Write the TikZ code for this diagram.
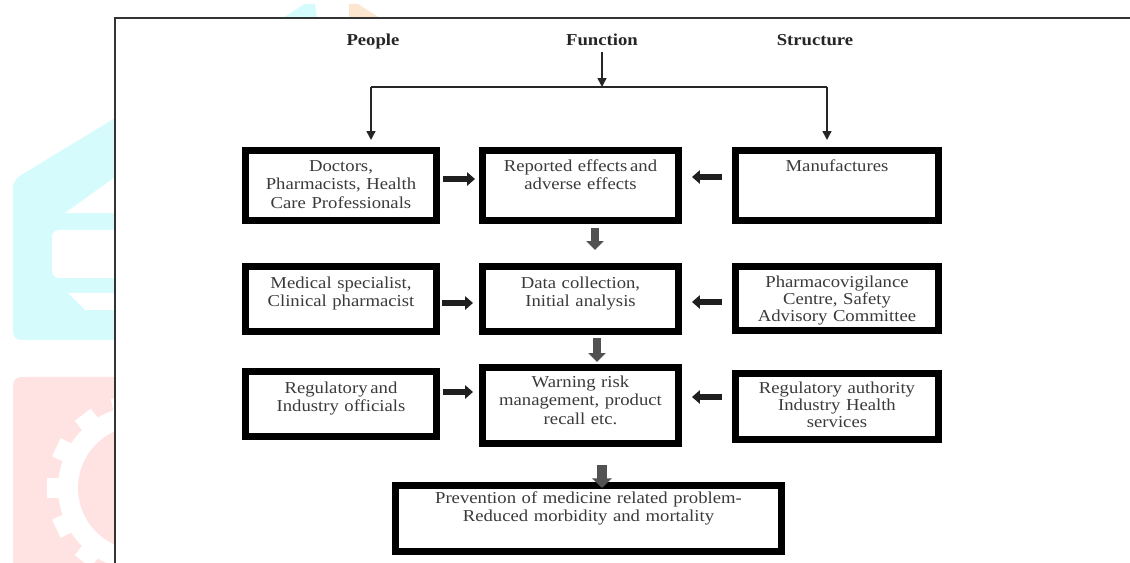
\documentclass[tikz,border=0pt]{standalone}
\usepackage{fontspec}
\setmainfont{Liberation Serif}[FakeStretch=1.12]
\usetikzlibrary{arrows.meta}
\definecolor{ink}{HTML}{3A3A3A}
\definecolor{wmcyan}{HTML}{D6FBFC}
\definecolor{wmpink}{HTML}{FFE3E3}
\definecolor{wmorange}{HTML}{FDE6D0}
\tikzset{
  box/.style n args={3}{draw=black, line width=4pt, inner sep=0pt, align=center,
    text width=#1, text height=#2, text depth=#3, anchor=north west,
    text=ink, font=\fontsize{9.5}{10.8}\selectfont},
  head/.style={anchor=base, text=black!85, font=\bfseries\fontsize{9.5}{11}\selectfont},
  link/.style={line width=.9pt, draw=black!85, -{Triangle[width=5pt,length=5pt]}},
  harrow/.style={line width=3.4pt, draw=black!88, -{Triangle[width=7.5pt,length=4.5pt]}},
  darrow/.style={line width=5pt, draw=black!68, -{Triangle[width=9.5pt,length=5pt]}}
}
\begin{document}
\begin{tikzpicture}[x=0.02cm, y=-0.02cm]
\useasboundingbox (0,0) rectangle (1130,563);
% \draw [help lines, step=50] (0,0) grid (1130,563);

% faded logo behind the figure
\begin{scope}
\clip (0,0) rectangle (115,563);
\fill[wmcyan, rounded corners=.16cm] (13,340) -- (13,180) -- (125,112) -- (125,340) -- cycle;
\fill[white] (65,213) -- (118,175) -- (118,213) -- cycle;
\fill[white, rounded corners=.14cm] (125,230) -- (52,230) -- (52,278) -- (125,278) -- cycle;
\fill[white] (68,293) -- (118,293) -- (118,310) -- (85,310) -- cycle;
\fill[wmpink, rounded corners=.16cm] (13,600) -- (13,377) -- (130,377) -- (130,600) -- cycle;
\fill[white] (140,488) circle (1.64cm);
\foreach \a in {24,50,...,360}
  \draw[white, line width=.4cm] (140,488) ++(\a:1.5cm) -- ++(\a:.36cm);
\fill[wmpink] (140,488) circle (1.24cm);
\end{scope}
\fill[wmcyan] (283,18) -- (295,10) -- (305,4) -- (315,4) -- (317,18) -- cycle;
\fill[wmorange] (349,18) -- (349,4) -- (358,4) -- (380,18) -- cycle;

% frame
\draw[line width=1.2pt, black!80] (115,563) -- (115,18) -- (1130,18);

% headings
\node[head] (people) at (373,46) {People};
\node[head] (fun) at (602,46) {Function};
\node[head] (struct) at (815,46) {Structure};

% boxes
\node[box={3.82cm}{.41cm}{.99cm}] (doc) at (242,147) {Doctors,\\Pharmacists, Health\\Care Professionals};
\node[box={3.92cm}{.41cm}{.99cm}] (rep) at (479,147) {Reported effects\,and\\adverse effects};
\node[box={4.06cm}{.41cm}{.99cm}] (manu) at (732,147) {Manufactures};

\node[box={3.82cm}{.43cm}{.87cm}] (med) at (242,263) {Medical specialist,\\Clinical pharmacist};
\node[box={3.92cm}{.43cm}{.87cm}] (data) at (479,263) {Data collection,\\Initial analysis};
\node[box={4.06cm}{.41cm}{.87cm}, font=\fontsize{9.5}{9.7}\selectfont] (pvc) at (732,263) {Pharmacovigilance\\Centre, Safety\\Advisory Committee};

\node[box={3.82cm}{.43cm}{.87cm}] (reg) at (242,368) {Regulatory\,and\\Industry officials};
\node[box={3.92cm}{.39cm}{1.13cm}] (warn) at (479,364) {Warning risk\\management, product\\recall etc.};
\node[box={4.06cm}{.39cm}{.93cm}, font=\fontsize{9.5}{9.7}\selectfont] (auth) at (732,370) {Regulatory authority\\Industry Health\\services};

\node[box={7.72cm}{.35cm}{.97cm}] (prev) at (392,482) {Prevention of medicine related problem-\\Reduced morbidity and mortality};

% branching lines from the top
\coordinate (barL) at (371,87);
\coordinate (barR) at (827,87);
\draw[line width=.9pt, black!85] (barL) -- (barR);
\draw[link] (fun.south) -- (fun.south |- barL);
\draw[link, shorten >=.14cm] (barL) -- (barL |- doc.north);
\draw[link, shorten >=.14cm] (barR) -- (barR |- manu.north);

% side arrows
\draw[harrow, shorten <=.06cm, shorten >=.08cm] ([yshift=.13cm]doc.east) -- ([yshift=.13cm]doc.east -| rep.west);
\draw[harrow, shorten <=.2cm, shorten >=.2cm] ([yshift=.17cm]manu.west) -- ([yshift=.17cm]manu.west -| rep.east);
\draw[harrow, shorten <=.04cm, shorten >=.12cm] ([yshift=-.08cm]med.east) -- ([yshift=-.08cm]med.east -| data.west);
\draw[harrow, shorten <=.2cm, shorten >=.2cm] ([yshift=-.07cm]pvc.west) -- ([yshift=-.07cm]pvc.west -| data.east);
\draw[harrow, shorten <=.06cm, shorten >=.12cm] ([yshift=.24cm]reg.east) -- ([yshift=.24cm]reg.east -| warn.west);
\draw[harrow, shorten <=.2cm, shorten >=.2cm] ([yshift=.19cm]auth.west) -- ([yshift=.19cm]auth.west -| warn.east);

% down arrows
\draw[darrow, shorten <=.08cm, shorten >=.26cm] ([xshift=.29cm]rep.south) -- ([xshift=.29cm]rep.south |- data.north);
\draw[darrow, shorten <=.06cm, shorten >=.04cm] ([xshift=.33cm]data.south) -- ([xshift=.33cm]data.south |- warn.north);
\draw[darrow, line width=6pt, -{Triangle[width=11pt,length=5.5pt]}, shorten <=.36cm, shorten >=-.12cm] ([xshift=.43cm]warn.south) -- ([xshift=.43cm]warn.south |- prev.north);
\end{tikzpicture}
\end{document}
